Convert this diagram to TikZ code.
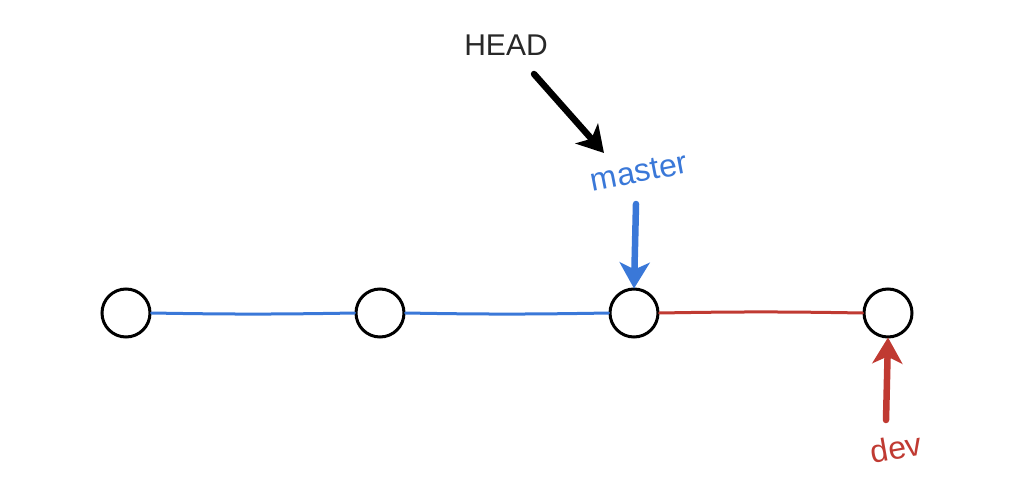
\documentclass[tikz,border=0pt]{standalone}
\usepackage{fontspec}
\setmainfont{Liberation Sans}
\usetikzlibrary{arrows.meta}
\definecolor{gblue}{RGB}{58,120,216}
\definecolor{gred}{RGB}{192,58,50}
\definecolor{gtext}{RGB}{40,40,40}
\begin{document}
\begin{tikzpicture}[x=1pt,y=-1pt,
  commit/.style={circle,draw=black,line width=3pt,minimum size=48pt,inner sep=0pt,fill=white},
  lbl/.style={font=\fontsize{30}{32}\selectfont,inner sep=0pt},
  link/.style={line width=3pt,line cap=round},
  ptr/.style={line width=6.5pt,line cap=round,-{Stealth[length=26pt,width=30pt,inset=7pt]}}
]
\useasboundingbox (0,0) rectangle (1022,484);
\node[commit] (c1) at (126,313) {};
\node[commit] (c2) at (380,313) {};
\node[commit] (c3) at (634,313) {};
\node[commit] (c4) at (888,313) {};
\draw[link,gblue] (c1.east) to[bend right=1] (c2.west);
\draw[link,gblue] (c2.east) to[bend right=1] (c3.west);
\draw[link,gred] (c3.east) to[bend left=1] (c4.west);
\node[lbl,text=gtext] (head) at (506,45) {HEAD};
\node[lbl,text=gblue,rotate=11,font=\fontsize{32}{34}\selectfont] (master) at (639,172) {master};
\node[lbl,text=gred,rotate=10,font=\fontsize{32}{34}\selectfont] (dev) at (896,448) {dev};
\coordinate (hs) at (534,74);
\coordinate (he) at (604,153);
\coordinate (ms) at (636,204);
\coordinate (ds) at (886,420);
\draw[ptr,black] (hs) -- (he);
\draw[ptr,gblue] (ms) -- ([yshift=-1pt]c3.north);
\draw[ptr,gred] (ds) -- ([yshift=1pt]c4.south);
\end{tikzpicture}
\end{document}
